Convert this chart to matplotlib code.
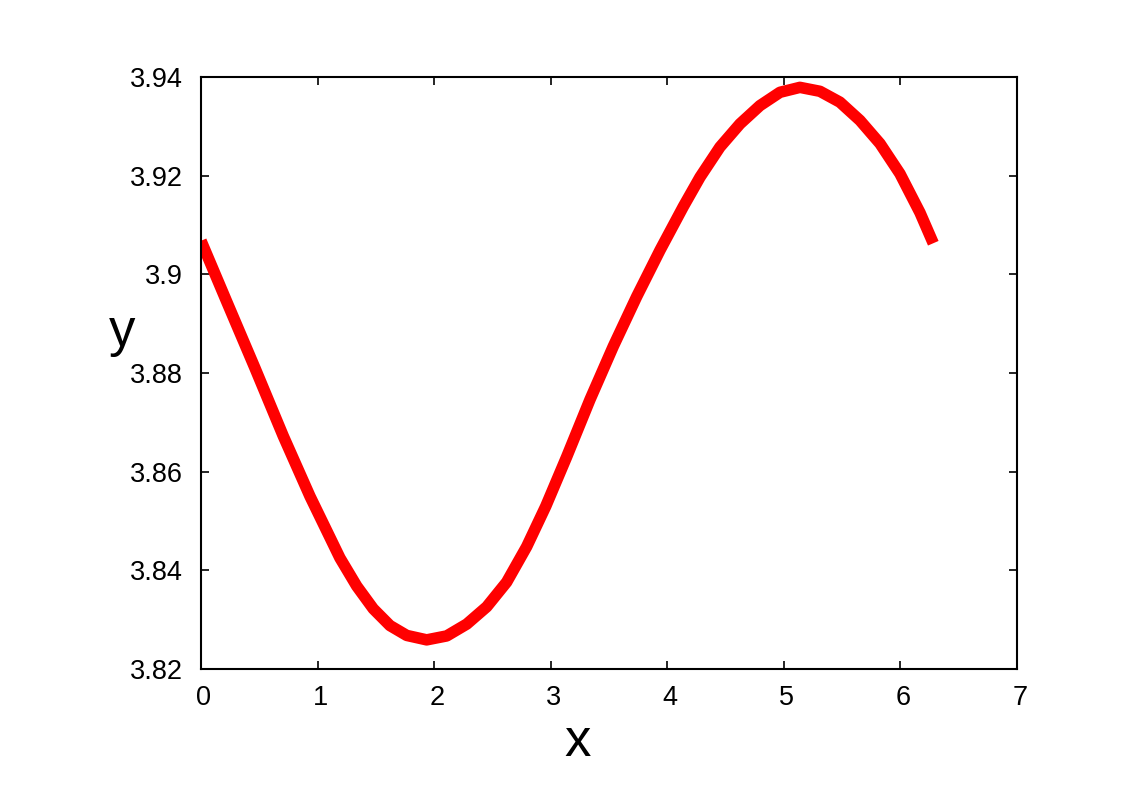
import matplotlib
matplotlib.use("Agg")
import matplotlib.pyplot as plt
from matplotlib.transforms import ScaledTranslation

# points
x_vals = [0.0, 0.220, 0.463, 0.706, 0.935, 1.192, 1.336, 1.478, 1.621, 1.765,
          1.936, 2.108, 2.280, 2.451, 2.622, 2.794, 2.958, 3.137, 3.337, 3.537,
          3.738, 3.938, 4.137, 4.281, 4.452, 4.624, 4.795, 4.967, 5.138, 5.310,
          5.481, 5.653, 5.825, 5.996, 6.168, 6.282]
y_vals = [3.9068, 3.8945, 3.8810, 3.8672, 3.8550, 3.8425, 3.8368, 3.8322, 3.8288, 3.8268,
          3.8259, 3.8267, 3.8291, 3.8326, 3.8376, 3.8448, 3.8530, 3.8630, 3.8746, 3.8854,
          3.8955, 3.9049, 3.9137, 3.9197, 3.9258, 3.9305, 3.9342, 3.9369, 3.9379, 3.9371,
          3.9349, 3.9312, 3.9265, 3.9204, 3.9125, 3.9063]

x_ticks = [0, 1, 2, 3, 4, 5, 6, 7]
y_ticks = [3.82, 3.84, 3.86, 3.88, 3.90, 3.92, 3.94]
y_tick_labels = ["3.82", "3.84", "3.86", "3.88", "3.9", "3.92", "3.94"]

plt.rcParams['font.family'] = ['Liberation Sans', 'DejaVu Sans']

fig = plt.figure(figsize=(11.21, 7.93), dpi=100)
ax = fig.add_axes([0.1793, 0.1564, 0.7279, 0.7465])

ax.plot(x_vals, y_vals, color='#ff0000', linewidth=8.3,
        solid_joinstyle='round', solid_capstyle='butt')

ax.set_xlim(0, 7)
ax.set_ylim(3.82, 3.94)
ax.set_xticks(x_ticks)
ax.set_yticks(y_ticks)
ax.set_yticklabels(y_tick_labels)

ax.tick_params(direction='in', length=6, width=1.2, labelsize=19.5,
               top=True, right=True)
ax.tick_params(axis='y', pad=13)
ax.tick_params(axis='x', pad=11.5)
for sp in ax.spines.values():
    sp.set_linewidth(1.5)

# x tick labels sit a few pixels right of their ticks in the original
shift = ScaledTranslation(3 / 100, 0, fig.dpi_scale_trans)
for lab in ax.get_xticklabels():
    lab.set_transform(lab.get_transform() + shift)

ax.set_xlabel('x', fontsize=38)
ax.xaxis.set_label_coords(0.461, -0.123)
ax.xaxis.label.set_va('center')
ax.set_ylabel('y', fontsize=38, rotation=0)
ax.yaxis.set_label_coords(-0.097, 0.57)
ax.yaxis.label.set_va('center')
ax.yaxis.label.set_ha('center')

fig.savefig('out.png', dpi=100)
